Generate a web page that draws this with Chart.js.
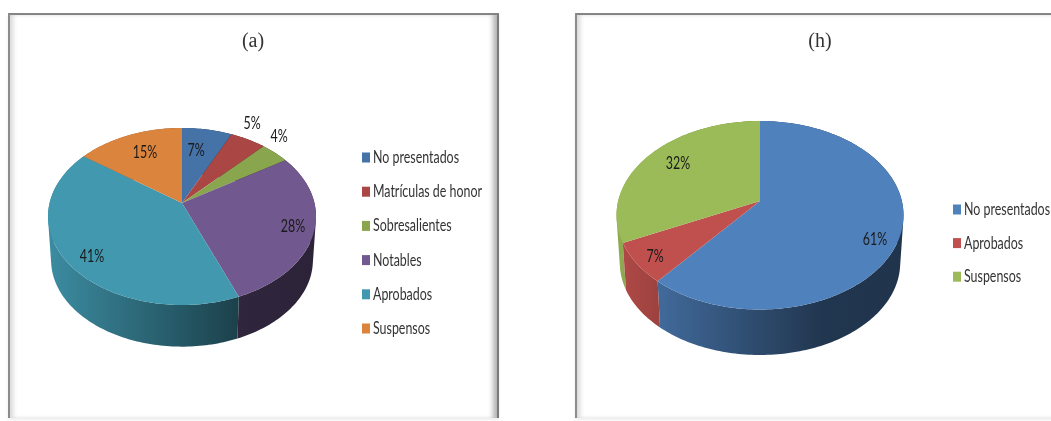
<!DOCTYPE html>
<html>
<head>
<meta charset="utf-8">
<title>Calificaciones</title>
<script src="https://cdn.jsdelivr.net/npm/chart.js@4"></script>
<style>
    html, body { margin: 0; padding: 0; width: 1051px; height: 421px; overflow: hidden; background: #fff; }
    .panel { position: absolute; top: 13px; width: 491px; height: 405px; box-sizing: border-box; background: #fff;
             border-top: 2px solid #858585; border-left: 2px solid #8c8c8c; border-right: 2px solid #7a7a7a;
             box-shadow: inset 6px 0 5px -3px #d8d8d8, inset -6px 0 5px -2px #b4b4b4, 0 2px 3px #eee; }
    canvas { position: absolute; top: 13px; }
</style>
</head>
<body>
<div class="panel" style="left:8px"></div>
<div class="panel" style="left:575px"></div>
<canvas id="chartA" width="490" height="408" style="left:8px"></canvas>
<canvas id="chartB" width="490" height="408" style="left:575px"></canvas>
<script>
// Values
const labelsA = ['No presentados', 'Matrículas de honor', 'Sobresalientes', 'Notables', 'Aprobados', 'Suspensos'];
const valuesA = [7, 5, 4, 28, 41, 15];
const colorsA = ['#4572a7', '#aa4643', '#89a54e', '#71588f', '#4198af', '#db843d'];

const labelsB = ['No presentados', 'Aprobados', 'Suspensos'];
const valuesB = [61, 7, 32];
const colorsB = ['#4f81bd', '#c0504d', '#9bbb59'];

function shade(hex, f) {
    const n = parseInt(hex.slice(1), 16);
    return 'rgb(' + Math.round((n >> 16 & 255) * f) + ',' + Math.round((n >> 8 & 255) * f) + ',' + Math.round((n & 255) * f) + ')';
}

// The reference text is squeezed horizontally
function squeezedText(ctx, text, x, y, sx) {
    ctx.save();
    ctx.translate(x, y);
    ctx.scale(sx, 1);
    ctx.fillText(text, 0, 0);
    ctx.restore();
}

// Tilted disc: library arc angles are projected with a small perspective
const pie3d = {
    id: 'pie3d',
    beforeDatasetsDraw(chart, args, o) {
        const ctx = chart.ctx;
        const meta = chart.getDatasetMeta(0);
        const colors = chart.data.datasets[0].backgroundColor;
        const p = (o.front - o.back) / (o.front + o.back);
        const a = o.front * (1 - p);
        const b = o.rx * Math.sqrt(1 - p * p);

        const top = t => {
            const d = 1 - p * Math.sin(t);
            return [o.x + b * Math.cos(t) / d, o.y + a * Math.sin(t) / d];
        };
        const low = t => {
            const q = top(t);
            return [o.x + (q[0] - o.x) * o.shrink, o.y + o.depth + (q[1] - o.y) * o.shrink];
        };
        const sample = (from, to) => {
            const pts = [];
            const n = Math.ceil((to - from) / 0.02);
            for (let i = 0; i <= n; i++) pts.push(from + (to - from) * i / n);
            return pts;
        };

        // side wall, back slices first, swept in small quads so the outline has no notch
        const arcs = meta.data.slice().sort((m, k) =>
            Math.sin((m.startAngle + m.endAngle) / 2) - Math.sin((k.startAngle + k.endAngle) / 2));
        arcs.forEach(arc => {
            const base = colors[meta.data.indexOf(arc)];
            const grad = ctx.createLinearGradient(o.x - o.rx, 0, o.x + o.rx, 0);
            grad.addColorStop(0, shade(base, 0.92));
            grad.addColorStop(0.72, shade(base, 0.42));
            grad.addColorStop(1, shade(base, 0.4));
            const ts = sample(arc.startAngle, arc.endAngle);
            ctx.beginPath();
            for (let i = 0; i < ts.length - 1; i++) {
                const quad = [top(ts[i]), top(ts[i + 1]), low(ts[i + 1]), low(ts[i])];
                // keep one winding direction or the fill cancels where quads overlap
                let area = 0;
                quad.forEach((q, j) => {
                    const n = quad[(j + 1) % 4];
                    area += q[0] * n[1] - n[0] * q[1];
                });
                if (area < 0) quad.reverse();
                quad.forEach((q, j) => { j ? ctx.lineTo(q[0], q[1]) : ctx.moveTo(q[0], q[1]); });
                ctx.closePath();
            }
            ctx.fillStyle = grad;
            ctx.fill();
        });

        // top face
        meta.data.forEach((arc, i) => {
            ctx.beginPath();
            ctx.moveTo(o.x, o.y);
            sample(arc.startAngle, arc.endAngle).forEach(t => { const q = top(t); ctx.lineTo(q[0], q[1]); });
            ctx.closePath();
            ctx.fillStyle = colors[i];
            ctx.fill();
        });

        // percent labels
        ctx.fillStyle = '#1a1a1a';
        ctx.font = o.font;
        ctx.textBaseline = 'middle';
        chart.data.datasets[0].data.forEach((v, i) => {
            ctx.textAlign = 'center';
            squeezedText(ctx, v + '%', o.labelAt[i][0], o.labelAt[i][1], o.squeeze);
        });

        // legend
        ctx.textAlign = 'left';
        chart.data.labels.forEach((name, i) => {
            const y = o.legendY + i * o.legendStep;
            ctx.fillStyle = colors[i];
            ctx.fillRect(o.legendX, y - 5, 8, 10);
            ctx.fillStyle = '#333';
            squeezedText(ctx, name, o.legendX + 11, y, o.squeeze);
        });
        return false;
    }
};

function makeChart(id, labels, values, colors, title, opts) {
    return new Chart(document.getElementById(id), {
        type: 'pie',
        data: { labels: labels, datasets: [{ data: values, backgroundColor: colors, borderWidth: 0 }] },
        options: {
            responsive: false,
            animation: false,
            layout: { padding: 0 },
            plugins: {
                legend: { display: false },
                tooltip: { enabled: false },
                title: {
                    display: true,
                    text: title,
                    color: '#333',
                    font: { family: '"Liberation Serif", serif', size: 20, weight: 'normal' },
                    padding: { top: 17, bottom: 0 }
                },
                pie3d: opts
            }
        },
        plugins: [pie3d]
    });
}

const font = '17px Lato, sans-serif';

makeChart('chartA', labelsA, valuesA, colorsA, '(a)', {
    x: 174, y: 190, rx: 134, back: 75, front: 102, depth: 44, shrink: 0.977, font: font, squeeze: 0.73,
    labelAt: [[188, 138], [244, 111], [271, 124], [285, 214], [84, 244], [137, 140]],
    legendX: 354, legendY: 144.5, legendStep: 34.2
});

makeChart('chartB', labelsB, valuesB, colorsB, '(h)', {
    x: 185, y: 188, rx: 143.5, back: 80, front: 108.5, depth: 48, shrink: 0.977, font: font, squeeze: 0.73,
    labelAt: [[300, 227], [80, 244], [103, 151]],
    legendX: 378, legendY: 196.5, legendStep: 33.6
});
</script>
</body>
</html>
